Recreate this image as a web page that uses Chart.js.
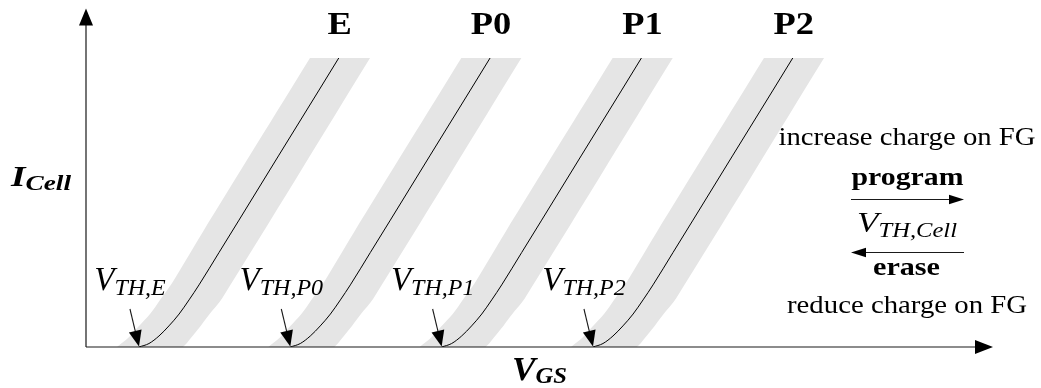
<!DOCTYPE html>
<html>
<head>
<meta charset="utf-8">
<script src="https://cdn.jsdelivr.net/npm/chart.js@4/dist/chart.umd.min.js"></script>
<style>
  html, body { margin: 0; padding: 0; background: #ffffff; }
  #wrap { width: 1041px; height: 388px; }
</style>
</head>
<body>
<div id="wrap"><canvas id="chart" width="1041" height="388"></canvas></div>
<script>
// Cell states and their threshold voltages (V)
const states  = ['E', 'P0', 'P1', 'P2'];
const vthSubs = ['TH,E', 'TH,P0', 'TH,P1', 'TH,P2'];
const vth     = [0.35, 1.35, 2.35, 3.35];

// Cell current along each transfer curve (normalised, 100 = top of the plot)
const iCell = [0, 1.2, 3.8, 7.3, 11.4, 16.3, 21.5, 32.7, 43.9, 66.4, 88.9, 108.6];
const vgsE  = [0.350, 0.416, 0.482, 0.548, 0.615, 0.681, 0.747, 0.879, 1.011, 1.275, 1.540, 1.771];
const vgsP0 = [1.350, 1.416, 1.482, 1.548, 1.615, 1.681, 1.747, 1.879, 2.011, 2.275, 2.540, 2.771];
const vgsP1 = [2.350, 2.416, 2.482, 2.548, 2.615, 2.681, 2.747, 2.879, 3.011, 3.275, 3.540, 3.771];
const vgsP2 = [3.350, 3.416, 3.482, 3.548, 3.615, 3.681, 3.747, 3.879, 4.011, 4.275, 4.540, 4.771];

// Spread band outline of each state: left flank going up, right flank coming down
const bandI  = [-3.1, 0, 3.1, 6.9, 11.4, 16.3, 22.1, 39.4, 100, 105.6, 105.6, 100, 16.8, 11.2, 6.1, 1.4, -0.7, -3.1];
const bandE  = [0.145, 0.205, 0.278, 0.344, 0.423, 0.489, 0.568, 0.767, 1.480, 1.546, 1.943, 1.877, 0.899, 0.813, 0.740, 0.667, 0.628, 0.595];
const bandP0 = [1.145, 1.205, 1.278, 1.344, 1.423, 1.489, 1.568, 1.767, 2.480, 2.546, 2.943, 2.877, 1.899, 1.813, 1.740, 1.667, 1.628, 1.595];
const bandP1 = [2.145, 2.205, 2.278, 2.344, 2.423, 2.489, 2.568, 2.767, 3.480, 3.546, 3.943, 3.877, 2.899, 2.813, 2.740, 2.667, 2.628, 2.595];
const bandP2 = [3.145, 3.205, 3.278, 3.344, 3.423, 3.489, 3.568, 3.767, 4.480, 4.546, 4.943, 4.877, 3.899, 3.813, 3.740, 3.667, 3.628, 3.595];

const curves = [vgsE, vgsP0, vgsP1, vgsP2];
const bands  = [bandE, bandP0, bandP1, bandP2];

const SERIF = '"Liberation Serif", "Times New Roman", serif';
const BAND_GREY = '#e5e5e5';

function pts(xs, ys) { return xs.map((x, i) => ({ x: x, y: ys[i] })); }

const datasets = [];
curves.forEach((vs, k) => {
  datasets.push({
    label: states[k],
    data: pts(vs, iCell),
    borderColor: '#000000',
    borderWidth: 1,
    pointRadius: 0,
    fill: false,
    cubicInterpolationMode: 'monotone',
    clip: 0,
    order: 0
  });
});
bands.forEach((vs, k) => {
  datasets.push({
    label: states[k] + ' spread',
    data: pts(vs, bandI),
    borderColor: 'rgba(0,0,0,0)',
    borderWidth: 0,
    backgroundColor: BAND_GREY,
    pointRadius: 0,
    fill: 'shape',
    tension: 0.3,
    clip: 0,
    order: 1
  });
});

// Draws a run of text pieces (base + subscript) centred on cx, optionally stretched to a width
function drawRuns(ctx, runs, cx, baseline, opts) {
  opts = opts || {};
  let w = 0;
  runs.forEach(r => { ctx.font = r.font; r.w = ctx.measureText(r.text).width; w += r.w; });
  const sx = opts.width ? opts.width / w : (opts.sx || 1);
  ctx.save();
  ctx.translate(cx, baseline);
  ctx.scale(sx, 1);
  ctx.textAlign = 'left';
  ctx.textBaseline = 'alphabetic';
  ctx.fillStyle = '#000000';
  let x = -w / 2;
  runs.forEach(r => { ctx.font = r.font; ctx.fillText(r.text, x, r.dy || 0); x += r.w; });
  ctx.restore();
}

function arrowHead(ctx, tx, ty, dx, dy, len, half) {
  const d = Math.hypot(dx, dy), ux = dx / d, uy = dy / d;
  const bx = tx - ux * len, by = ty - uy * len;
  ctx.beginPath();
  ctx.moveTo(tx, ty);
  ctx.lineTo(bx - uy * half, by + ux * half);
  ctx.lineTo(bx + uy * half, by - ux * half);
  ctx.closePath();
  ctx.fill();
}

// V_GS where a curve reaches the top of the plot
function topCrossing(vs, ymax) {
  for (let i = 1; i < iCell.length; i++) {
    if (iCell[i] >= ymax) {
      const t = (ymax - iCell[i - 1]) / (iCell[i] - iCell[i - 1]);
      return vs[i - 1] + t * (vs[i] - vs[i - 1]);
    }
  }
  return vs[vs.length - 1];
}

const decorations = {
  id: 'decorations',
  afterDraw(chart) {
    const ctx = chart.ctx, a = chart.chartArea;
    const xs = chart.scales.x, ys = chart.scales.y;
    const y0 = ys.getPixelForValue(0);
    ctx.save();
    ctx.strokeStyle = '#1a1a1a';
    ctx.fillStyle = '#000000';
    ctx.lineWidth = 1.2;

    // axes with arrow heads
    ctx.beginPath();
    ctx.moveTo(a.left, y0);
    ctx.lineTo(a.left, 24);
    ctx.moveTo(a.left, y0);
    ctx.lineTo(978, y0);
    ctx.stroke();
    arrowHead(ctx, a.left, 8.5, 0, -1, 17, 7);
    arrowHead(ctx, 993, y0, 1, 0, 18, 7);

    // threshold markers
    ctx.lineWidth = 1.1;
    vth.forEach((v, k) => {
      const px = xs.getPixelForValue(v);
      const sx = px - 9, sy = 309;
      const ty = y0 - 0.5;
      const dx = px - sx, dy = ty - sy, d = Math.hypot(dx, dy);
      ctx.beginPath();
      ctx.moveTo(sx, sy);
      ctx.lineTo(px - dx / d * 13, ty - dy / d * 13);
      ctx.stroke();
      arrowHead(ctx, px, ty, dx, dy, 16, 6.5);
      drawRuns(ctx, [
        { text: 'V', font: 'italic 33px ' + SERIF },
        { text: vthSubs[k], font: 'italic 24px ' + SERIF, dy: 5 }
      ], sx, 290);
    });

    // state names above each curve
    curves.forEach((vs, k) => {
      const px = xs.getPixelForValue(topCrossing(vs, ys.max));
      drawRuns(ctx, [{ text: states[k], font: 'bold 32px ' + SERIF }], px + 1, 34, { sx: 1.14 });
    });

    // axis titles
    drawRuns(ctx, [
      { text: 'I', font: 'italic bold 30px ' + SERIF },
      { text: 'Cell', font: 'italic bold 22px ' + SERIF, dy: 4 }
    ], 41, 186, { width: 60 });
    drawRuns(ctx, [
      { text: 'V', font: 'italic bold 33px ' + SERIF },
      { text: 'GS', font: 'italic bold 23px ' + SERIF, dy: 3 }
    ], 539.5, 380, { width: 55 });

    // program / erase legend on the right
    const cx = 907;
    ctx.lineWidth = 1.2;
    drawRuns(ctx, [{ text: 'increase charge on FG', font: '26px ' + SERIF }], cx, 145, { width: 257 });
    drawRuns(ctx, [{ text: 'program', font: 'bold 26px ' + SERIF }], cx + 0.5, 185, { width: 112 });
    ctx.beginPath();
    ctx.moveTo(851, 199.5);
    ctx.lineTo(952, 199.5);
    ctx.stroke();
    arrowHead(ctx, 964, 199.5, 1, 0, 15, 4.8);
    drawRuns(ctx, [
      { text: 'V', font: 'italic 30px ' + SERIF },
      { text: 'TH,Cell', font: 'italic 21px ' + SERIF, dy: 5 }
    ], cx, 231.5, { width: 100 });
    ctx.beginPath();
    ctx.moveTo(964, 252.5);
    ctx.lineTo(863, 252.5);
    ctx.stroke();
    arrowHead(ctx, 851, 252.5, -1, 0, 15, 4.8);
    drawRuns(ctx, [{ text: 'erase', font: 'bold 26px ' + SERIF }], cx - 0.5, 275, { width: 67 });
    drawRuns(ctx, [{ text: 'reduce charge on FG', font: '26px ' + SERIF }], cx, 313, { width: 240 });

    ctx.restore();
  }
};

new Chart(document.getElementById('chart'), {
  type: 'line',
  data: { datasets: datasets },
  options: {
    responsive: false,
    animation: false,
    devicePixelRatio: 1,
    layout: { padding: { left: 86, right: 47, top: 58, bottom: 41 } },
    elements: { line: { capBezierPoints: false } },
    scales: {
      x: { type: 'linear', min: 0, max: 6, display: false },
      y: { type: 'linear', min: 0, max: 100, display: false }
    },
    plugins: { legend: { display: false }, tooltip: { enabled: false } }
  },
  plugins: [decorations]
});
</script>
</body>
</html>
